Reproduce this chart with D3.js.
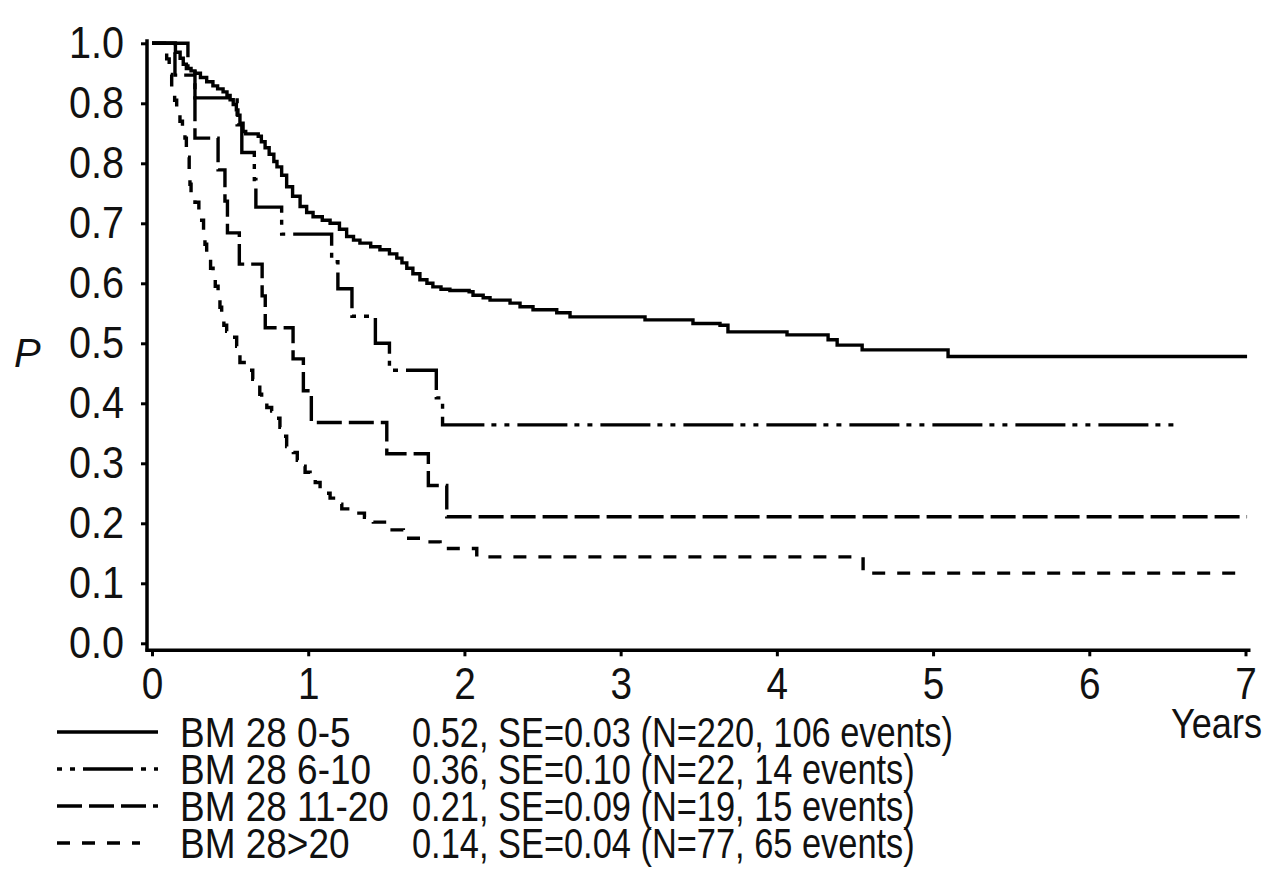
<!DOCTYPE html>
<html lang="en">

<head>
  <meta charset="UTF-8">
  <title>Survival by BM 28</title>
  <style>
    body {
      margin: 0;
      background: #fff;
    }

    svg text {
      font-family: "Liberation Sans", Arial, sans-serif;
      fill: #111;
    }

    .axis text {
      font-size: 44px;
    }

    .legend text {
      font-size: 43px;
    }
  </style>
  <script src="https://d3js.org/d3.v7.min.js"></script>
</head>

<body>
  <svg id="chart" width="1280" height="896"></svg>

  <script>
    // tick values / labels (the original prints "0.8" twice)
    const yearTicks = [0, 1, 2, 3, 4, 5, 6, 7];
    const pTicks = [0, 0.1, 0.2, 0.3, 0.4, 0.5, 0.6, 0.7, 0.8, 0.9, 1.0];
    const pTickLabels = ["0.0", "0.1", "0.2", "0.3", "0.4", "0.5", "0.6", "0.7", "0.8", "0.8", "1.0"];

    const groups = ["BM 28 0-5", "BM 28 6-10", "BM 28 11-20", "BM 28>20"];
    const summaries = [
      "0.52, SE=0.03 (N=220, 106 events)",
      "0.36, SE=0.10 (N=22, 14 events)",
      "0.21, SE=0.09 (N=19, 15 events)",
      "0.14, SE=0.04 (N=77, 65 events)"
    ];

    // [years, survival] step points
    const bm0to5 = [
      [0, 1.0], [0.15, 0.985], [0.18, 0.975], [0.2, 0.965], [0.22, 0.958], [0.25, 0.954], [0.275, 0.95],
      [0.31, 0.943], [0.35, 0.936], [0.39, 0.929], [0.42, 0.924], [0.455, 0.919], [0.48, 0.913], [0.5, 0.906],
      [0.52, 0.898], [0.54, 0.889], [0.55, 0.88], [0.563, 0.867], [0.583, 0.853], [0.6, 0.849], [0.68, 0.845],
      [0.7, 0.836], [0.724, 0.826], [0.75, 0.815], [0.78, 0.803], [0.8, 0.794], [0.83, 0.78], [0.862, 0.761],
      [0.9, 0.745], [0.948, 0.728], [0.99, 0.718], [1.031, 0.711], [1.09, 0.705], [1.14, 0.7], [1.2, 0.69],
      [1.246, 0.678], [1.29, 0.672], [1.331, 0.667], [1.4, 0.661], [1.459, 0.656], [1.52, 0.649], [1.567, 0.642],
      [1.6, 0.634], [1.631, 0.625], [1.67, 0.616], [1.715, 0.606], [1.76, 0.6], [1.798, 0.594], [1.85, 0.59],
      [1.907, 0.588], [2.03, 0.586], [2.055, 0.58], [2.12, 0.576], [2.164, 0.572], [2.292, 0.567], [2.356, 0.561],
      [2.439, 0.556], [2.591, 0.551], [2.676, 0.544], [3.156, 0.539], [3.463, 0.533], [3.636, 0.53], [3.687, 0.519],
      [4.065, 0.514], [4.328, 0.506], [4.386, 0.497], [4.546, 0.489], [5.096, 0.478], [7.01, 0.478]
    ];

    const bm6to10 = [
      [0, 1.0], [0.23, 0.955], [0.275, 0.909], [0.545, 0.864], [0.575, 0.818], [0.655, 0.773], [0.665, 0.727],
      [0.83, 0.682], [1.15, 0.636], [1.19, 0.591], [1.28, 0.545], [1.43, 0.5], [1.52, 0.455], [1.82, 0.409],
      [1.86, 0.364], [6.56, 0.364]
    ];

    const bm11to20 = [
      [0, 1.0], [0.147, 0.947], [0.275, 0.842], [0.423, 0.789], [0.467, 0.737], [0.483, 0.684], [0.559, 0.632],
      [0.705, 0.579], [0.725, 0.526], [0.903, 0.474], [0.969, 0.421], [1.02, 0.368], [1.503, 0.316],
      [1.769, 0.263], [1.887, 0.211], [7.01, 0.211]
    ];

    const bmOver20 = [
      [0, 1.0], [0.08, 0.987], [0.094, 0.974], [0.11, 0.948], [0.126, 0.918], [0.145, 0.905], [0.158, 0.89],
      [0.17, 0.88], [0.179, 0.87], [0.195, 0.857], [0.211, 0.842], [0.22, 0.825], [0.23, 0.81], [0.238, 0.79],
      [0.243, 0.765], [0.25, 0.75], [0.275, 0.735], [0.3, 0.72], [0.318, 0.705], [0.33, 0.687], [0.339, 0.665],
      [0.35, 0.652], [0.359, 0.64], [0.375, 0.625], [0.391, 0.608], [0.405, 0.595], [0.423, 0.575], [0.435, 0.56],
      [0.446, 0.542], [0.46, 0.53], [0.478, 0.52], [0.51, 0.51], [0.542, 0.495], [0.555, 0.48], [0.563, 0.468],
      [0.59, 0.46], [0.617, 0.455], [0.645, 0.44], [0.67, 0.43], [0.69, 0.415], [0.702, 0.4], [0.735, 0.393],
      [0.766, 0.387], [0.79, 0.375], [0.819, 0.36], [0.84, 0.345], [0.862, 0.328], [0.905, 0.318], [0.93, 0.305],
      [0.948, 0.295], [0.98, 0.285], [1.012, 0.277], [1.045, 0.268], [1.076, 0.258], [1.11, 0.25], [1.14, 0.242],
      [1.18, 0.232], [1.215, 0.224], [1.31, 0.217], [1.36, 0.21], [1.417, 0.202], [1.503, 0.189], [1.609, 0.175],
      [1.737, 0.169], [1.844, 0.158], [2.079, 0.144], [4.552, 0.117], [7.01, 0.117]
    ];

    const series = [bm0to5, bm6to10, bm11to20, bmOver20];
    const dashes = [null, "50,7,5,8,5,8", "25,7", "13,12"];
    const legendDashes = [null, "5,8,5,8,50,8,5,8,5", "25,7", "13,12"];

    const svg = d3.select("#chart");

    const x = d3.scaleLinear().domain([0, 7]).range([152, 1245.5]);
    const y = d3.scaleLinear().domain([0, 1]).range([643.3, 43.3]);

    const axisX0 = x(0) - 5;   // vertical axis sits a bit left of t=0
    const axisY0 = y(0) + 7;   // horizontal axis sits a bit below p=0

    // squeeze text horizontally to look like the condensed face of the original
    function narrow(sel, k) {
      sel.each(function () {
        const t = d3.select(this);
        const x0 = +t.attr("x") || 0;
        t.attr("x", x0 / k).attr("transform", `scale(${k},1)`);
      });
    }

    // y axis
    const yAxis = d3.axisLeft(y)
      .tickValues(pTicks)
      .tickFormat((d, i) => pTickLabels[i])
      .tickSizeOuter(0)
      .tickSize(6)
      .tickPadding(17);

    const gy = svg.append("g")
      .attr("class", "axis")
      .attr("transform", `translate(${axisX0},0)`)
      .call(yAxis);
    gy.select(".domain").remove();
    gy.selectAll(".tick line").attr("stroke", "#000").attr("stroke-width", 3);
    narrow(gy.selectAll(".tick text"), 0.9);

    // x axis
    const xAxis = d3.axisBottom(x)
      .tickValues(yearTicks)
      .tickFormat(d3.format("d"))
      .tickSizeOuter(0)
      .tickSize(6)
      .tickPadding(9);

    const gx = svg.append("g")
      .attr("class", "axis")
      .attr("transform", `translate(0,${axisY0})`)
      .call(xAxis);
    gx.select(".domain").remove();
    gx.selectAll(".tick line").attr("stroke", "#000").attr("stroke-width", 3);
    gx.selectAll(".tick text").attr("dy", "0.76em");
    narrow(gx.selectAll(".tick text"), 0.88);

    // axis lines
    svg.append("line")
      .attr("x1", axisX0).attr("x2", axisX0)
      .attr("y1", y(1) - 4).attr("y2", axisY0 + 1.5)
      .attr("stroke", "#000").attr("stroke-width", 3.5);
    svg.append("line")
      .attr("x1", axisX0 - 1.5).attr("x2", x(7) + 5)
      .attr("y1", axisY0).attr("y2", axisY0)
      .attr("stroke", "#000").attr("stroke-width", 3.5);

    svg.append("text")
      .attr("x", 1262)
      .attr("y", 738)
      .attr("text-anchor", "end")
      .style("font-size", "43px")
      .text("Years")
      .call(narrow, 0.84);

    svg.append("text")
      .attr("x", 14)
      .attr("y", 367)
      .style("font-size", "40px")
      .style("font-style", "italic")
      .text("P");

    // curves
    const line = d3.line()
      .x(d => x(d[0]))
      .y(d => y(d[1]))
      .curve(d3.curveStepAfter);

    svg.selectAll(".km")
      .data(series)
      .enter()
      .append("path")
      .attr("class", "km")
      .attr("d", line)
      .attr("fill", "none")
      .attr("stroke", "#000")
      .attr("stroke-width", 3.4)
      .attr("stroke-dasharray", (d, i) => dashes[i]);

    // legend
    const legend = svg.append("g").attr("class", "legend");
    const rowY = d3.scalePoint().domain(groups).range([732, 843]);

    const items = legend.selectAll(".item")
      .data(groups)
      .enter()
      .append("g")
      .attr("class", "item")
      .attr("transform", d => `translate(0,${rowY(d)})`);

    items.append("line")
      .attr("x1", 57)
      .attr("x2", (d, i) => i === 3 ? 140 : 158)
      .attr("y1", 0)
      .attr("y2", 0)
      .attr("stroke", "#000")
      .attr("stroke-width", 3.4)
      .attr("stroke-dasharray", (d, i) => legendDashes[i]);

    items.append("text")
      .attr("x", 180)
      .attr("y", 0)
      .attr("dy", "0.36em")
      .text(d => d)
      .call(narrow, 0.86);

    items.append("text")
      .attr("x", 412)
      .attr("y", 0)
      .attr("dy", "0.36em")
      .text((d, i) => summaries[i])
      .call(narrow, 0.8);
  </script>
</body>

</html>
